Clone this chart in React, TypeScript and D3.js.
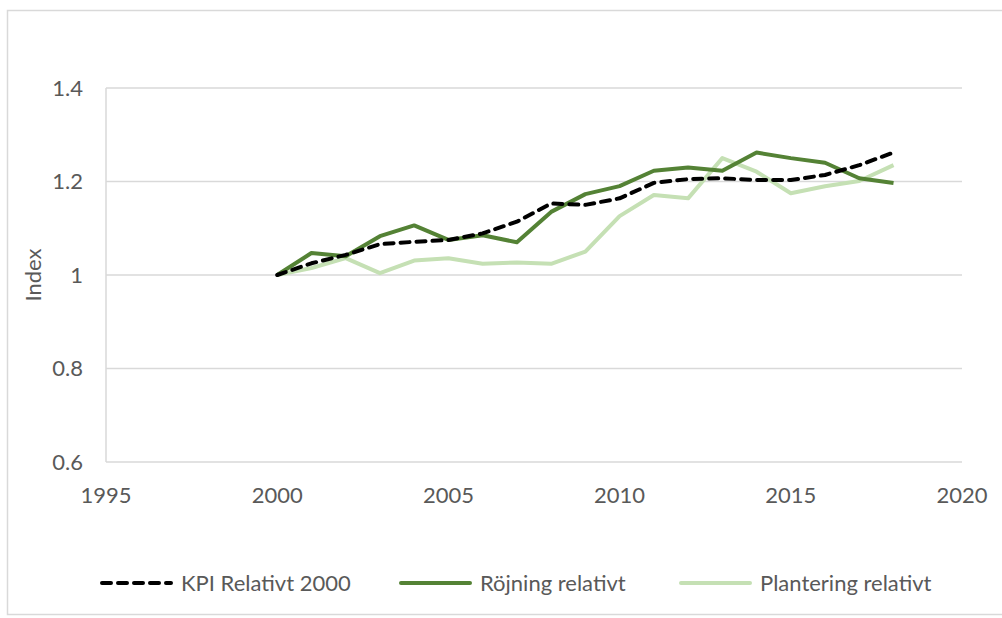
import React from "react";
import * as d3 from "d3";

const years = [2000, 2001, 2002, 2003, 2004, 2005, 2006, 2007, 2008, 2009, 2010, 2011, 2012, 2013, 2014, 2015, 2016, 2017, 2018];
const kpi = [1.0, 1.025, 1.043, 1.066, 1.071, 1.075, 1.089, 1.114, 1.153, 1.15, 1.164, 1.197, 1.205, 1.207, 1.203, 1.203, 1.214, 1.235, 1.262];
const rojning = [1.0, 1.047, 1.04, 1.083, 1.106, 1.075, 1.085, 1.07, 1.135, 1.173, 1.19, 1.223, 1.23, 1.223, 1.262, 1.25, 1.24, 1.207, 1.197];
const plantering = [1.0, 1.015, 1.036, 1.004, 1.031, 1.036, 1.024, 1.027, 1.024, 1.05, 1.126, 1.171, 1.164, 1.25, 1.221, 1.175, 1.19, 1.201, 1.235];
const xTicks = [1995, 2000, 2005, 2010, 2015, 2020];
const yTicks = [0.6, 0.8, 1.0, 1.2, 1.4];
const seriesNames = ["KPI Relativt 2000", "Röjning relativt", "Plantering relativt"];

const FONT = "Lato, 'Open Sans', sans-serif";
const TEXT = "#595959";
const GRID = "#d9d9d9";
const FS = 22;

export default function App() {
  const x = d3.scaleLinear().domain([1995, 2020]).range([106, 962]);
  const y = d3.scaleLinear().domain([0.6, 1.4]).range([462, 88]);
  const line = (vals: number[]) =>
    d3.line<number>().x((_, i) => x(years[i])).y((v) => y(v))(vals) || "";

  const series = [
    { name: seriesNames[0], vals: kpi, color: "#000000", dash: "9,7" },
    { name: seriesNames[1], vals: rojning, color: "#548235", dash: undefined },
    { name: seriesNames[2], vals: plantering, color: "#C5E0B4", dash: undefined },
  ];
  const legendX = [100, 399, 679];

  return (
    <svg width={1002} height={618} style={{ position: "absolute", left: 0, top: 0, background: "#fff" }}>
      <rect x={7.5} y={10.5} width={1000} height={604} fill="#fff" stroke={GRID} strokeWidth={1.5} />
      {yTicks.map((t) => (
        <g key={t}>
          <line x1={106} x2={962} y1={y(t)} y2={y(t)} stroke={GRID} strokeWidth={1.5} />
          <text x={83} y={y(t)} dy="0.35em" textAnchor="end" fontFamily={FONT} fontSize={FS} fill={TEXT}>
            {d3.format("~g")(t)}
          </text>
        </g>
      ))}
      <line x1={106} x2={106} y1={88} y2={462} stroke={GRID} strokeWidth={1.5} />
      {xTicks.map((t) => (
        <text key={t} x={x(t)} y={495} dy="0.35em" textAnchor="middle" fontFamily={FONT} fontSize={FS} fill={TEXT}>
          {t}
        </text>
      ))}
      <text
        transform={`translate(33,${y(1.0)}) rotate(-90)`}
        textAnchor="middle"
        dy="0.35em"
        fontFamily={FONT}
        fontSize={FS}
        fill={TEXT}
      >
        Index
      </text>
      {[series[2], series[1], series[0]].map((s) => (
        <path
          key={s.name}
          d={line(s.vals)}
          fill="none"
          stroke={s.color}
          strokeWidth={4}
          strokeDasharray={s.dash}
          strokeLinecap={s.dash ? "round" : "butt"}
          strokeLinejoin="round"
        />
      ))}
      {series.map((s, i) => (
        <g key={s.name}>
          <line
            x1={legendX[i] + 2}
            x2={legendX[i] + 71}
            y1={583}
            y2={583}
            stroke={s.color}
            strokeWidth={4}
            strokeDasharray={s.dash}
            strokeLinecap="round"
          />
          <text x={legendX[i] + 81} y={583} dy="0.35em" fontFamily={FONT} fontSize={FS} fill={TEXT}>
            {s.name}
          </text>
        </g>
      ))}
    </svg>
  );
}
